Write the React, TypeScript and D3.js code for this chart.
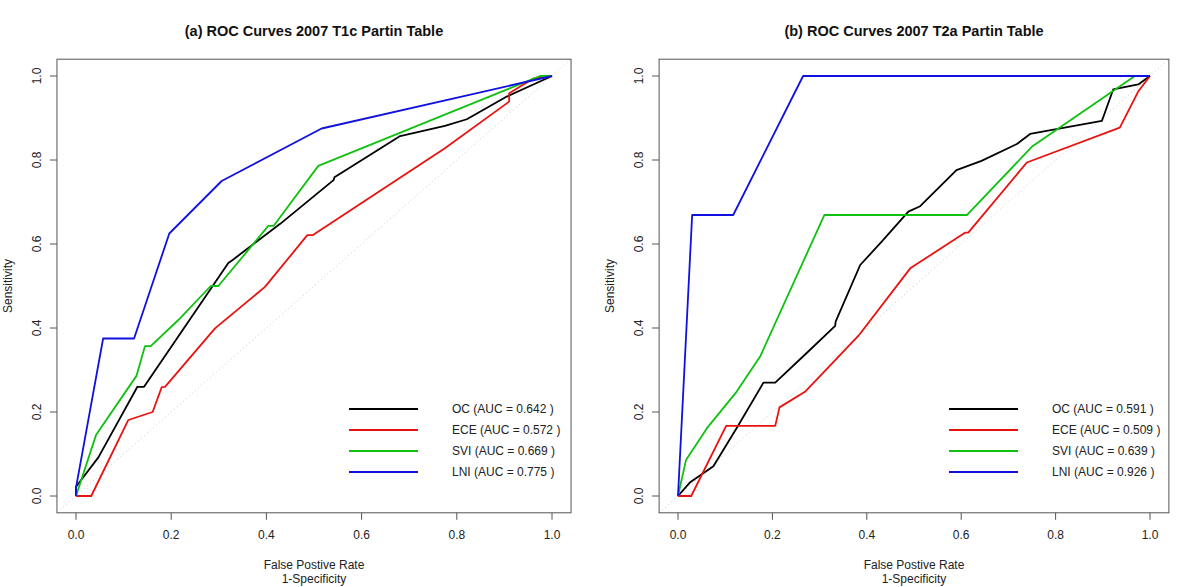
import React from "react";
import * as d3 from "d3";

// ---------- data ----------
const xTicks = [0, 0.2, 0.4, 0.6, 0.8, 1.0];
const yTicks = [0, 0.2, 0.4, 0.6, 0.8, 1.0];
const seriesNames = ["OC", "ECE", "SVI", "LNI"];
const seriesColors = ["#000000", "#e8120f", "#10c010", "#1010e0"];

const titleA = "(a) ROC Curves 2007 T1c Partin Table";
const titleB = "(b) ROC Curves 2007 T2a Partin Table";
const aucA = ["0.642", "0.572", "0.669", "0.775"];
const aucB = ["0.591", "0.509", "0.639", "0.926"];

// panel (a) T1c: [1-specificity, sensitivity]
const a_OC: [number, number][] = [
  [0, 0], [0, 0.022], [0.047, 0.092], [0.129, 0.26], [0.143, 0.26], [0.32, 0.555],
  [0.329, 0.562], [0.429, 0.648], [0.541, 0.752], [0.543, 0.759], [0.681, 0.857],
  [0.775, 0.881], [0.821, 0.897], [0.905, 0.951], [1, 1],
];
const a_ECE: [number, number][] = [
  [0, 0], [0.032, 0], [0.11, 0.181], [0.161, 0.2], [0.18, 0.259], [0.187, 0.26],
  [0.292, 0.399], [0.397, 0.498], [0.486, 0.621], [0.497, 0.621], [0.775, 0.828],
  [0.91, 0.939], [0.91, 0.959], [0.961, 0.994], [1, 1],
];
const a_SVI: [number, number][] = [
  [0, 0], [0.042, 0.145], [0.127, 0.286], [0.145, 0.357], [0.157, 0.357], [0.215, 0.419],
  [0.283, 0.5], [0.299, 0.5], [0.404, 0.643], [0.415, 0.643], [0.509, 0.786],
  [0.975, 1.0], [1, 1],
];
const a_LNI: [number, number][] = [
  [0, 0], [0, 0.02], [0.057, 0.375], [0.122, 0.375], [0.196, 0.625], [0.306, 0.75],
  [0.516, 0.875], [1, 1],
];

// panel (b) T2a
const b_OC: [number, number][] = [
  [0, 0], [0.025, 0.032], [0.075, 0.071], [0.126, 0.165], [0.181, 0.27], [0.206, 0.27],
  [0.276, 0.344], [0.333, 0.405], [0.334, 0.415], [0.386, 0.55], [0.432, 0.606],
  [0.488, 0.677], [0.513, 0.69], [0.59, 0.776], [0.643, 0.798], [0.718, 0.838],
  [0.746, 0.862], [0.898, 0.893], [0.922, 0.968], [0.975, 0.98], [1, 1],
];
const b_ECE: [number, number][] = [
  [0, 0], [0.028, 0], [0.102, 0.167], [0.206, 0.167], [0.215, 0.211], [0.269, 0.248],
  [0.382, 0.381], [0.492, 0.542], [0.608, 0.627], [0.615, 0.627], [0.739, 0.794],
  [0.936, 0.877], [0.975, 0.963], [1, 1],
];
const b_SVI: [number, number][] = [
  [0, 0], [0.017, 0.086], [0.061, 0.161], [0.124, 0.248], [0.174, 0.332], [0.31, 0.669],
  [0.612, 0.669], [0.751, 0.833], [0.968, 1.0], [1, 1],
];
const b_LNI: [number, number][] = [
  [0, 0], [0.03, 0.669], [0.117, 0.669], [0.265, 1.0], [1, 1],
];

const panelA = [a_OC, a_ECE, a_SVI, a_LNI];
const panelB = [b_OC, b_ECE, b_SVI, b_LNI];

const FONT = "'Liberation Sans', Arial, Helvetica, sans-serif";
const TXT = "#222";

type PanelProps = {
  title: string;
  curves: [number, number][][];
  aucs: string[];
  x0: number;
  x1: number;
  legendX: number;
};

function Panel({ title, curves, aucs, x0, x1, legendX }: PanelProps) {
  const x = d3.scaleLinear().domain([0, 1]).range([x0, x1]);
  const y = d3.scaleLinear().domain([0, 1]).range([496, 76]);
  const bx0 = x(-0.04), bx1 = x(1.04), by0 = y(-0.04), by1 = y(1.04);
  const line = d3.line<[number, number]>().x((d) => x(d[0])).y((d) => y(d[1]));
  const cx = (bx0 + bx1) / 2;
  return (
    <g>
      <text x={cx} y={36} textAnchor="middle" fontFamily={FONT} fontWeight="bold" fontSize={14.5} fill="#111">
        {title}
      </text>
      {/* diagonal reference */}
      <line x1={x(-0.04)} y1={y(-0.04)} x2={x(1.04)} y2={y(1.04)} stroke="#c8c8c8" strokeWidth={1} strokeDasharray="1,3" />
      {curves.map((c, i) => (
        <path key={i} d={line(c) || ""} fill="none" stroke={seriesColors[i]} strokeWidth={1.8} strokeLinejoin="round" />
      ))}
      <rect x={bx0} y={by1} width={bx1 - bx0} height={by0 - by1} fill="none" stroke="#555" strokeWidth={1} />
      {/* x axis */}
      {xTicks.map((t) => (
        <g key={"x" + t}>
          <line x1={x(t)} x2={x(t)} y1={by0} y2={by0 + 7} stroke="#555" />
          <text x={x(t)} y={539} textAnchor="middle" fontFamily={FONT} fontSize={12} fill={TXT}>
            {d3.format(".1f")(t)}
          </text>
        </g>
      ))}
      {/* y axis */}
      {yTicks.map((t) => (
        <g key={"y" + t}>
          <line x1={bx0} x2={bx0 - 7} y1={y(t)} y2={y(t)} stroke="#555" />
          <text
            transform={`translate(${bx0 - 16},${y(t)}) rotate(-90)`}
            textAnchor="middle"
            fontFamily={FONT}
            fontSize={12}
            fill={TXT}
          >
            {d3.format(".1f")(t)}
          </text>
        </g>
      ))}
      <text x={cx} y={569} textAnchor="middle" fontFamily={FONT} fontSize={12} fill={TXT}>
        False Postive Rate
      </text>
      <text x={cx} y={583} textAnchor="middle" fontFamily={FONT} fontSize={12} fill={TXT}>
        1-Specificity
      </text>
      <text
        transform={`translate(${bx0 - 45},${(by0 + by1) / 2}) rotate(-90)`}
        textAnchor="middle"
        fontFamily={FONT}
        fontSize={12}
        fill={TXT}
      >
        Sensitivity
      </text>
      {/* legend */}
      {seriesNames.map((n, i) => (
        <g key={n}>
          <line x1={legendX} x2={legendX + 69} y1={409 + i * 21} y2={409 + i * 21} stroke={seriesColors[i]} strokeWidth={2} />
          <text x={legendX + 103} y={413 + i * 21} fontFamily={FONT} fontSize={12} fill={TXT}>
            {`${n} (AUC = ${aucs[i]} )`}
          </text>
        </g>
      ))}
    </g>
  );
}

export default function App() {
  return (
    <svg width={1200} height={587} style={{ position: "absolute", left: 0, top: 0, background: "#fff" }}>
      <rect width={1200} height={587} fill="#fff" />
      <Panel title={titleA} curves={panelA} aucs={aucA} x0={76} x1={552} legendX={349} />
      <Panel title={titleB} curves={panelB} aucs={aucB} x0={678} x1={1150} legendX={949} />
    </svg>
  );
}
